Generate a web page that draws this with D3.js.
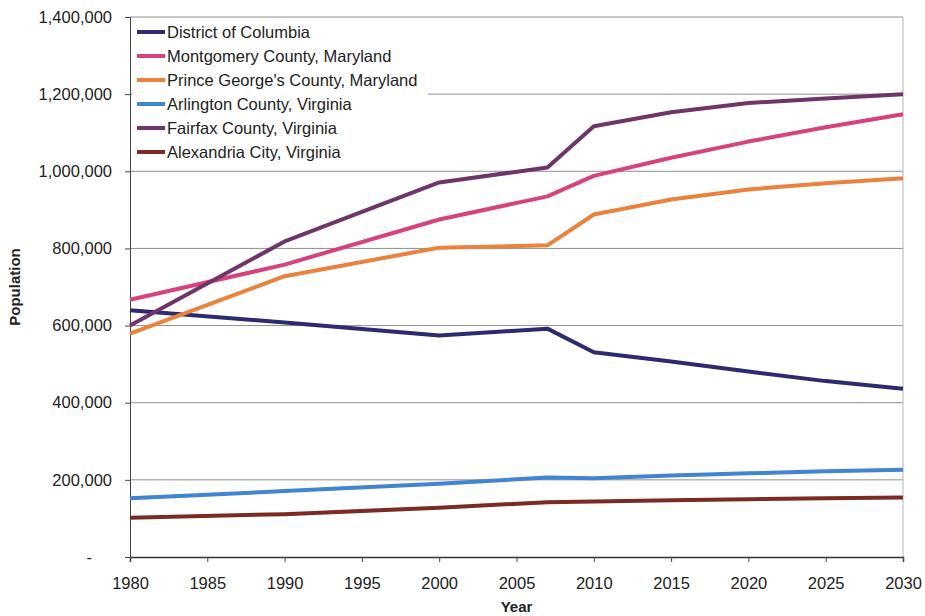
<!DOCTYPE html>
<html lang="en">
<head>
  <meta charset="UTF-8">
  <title>Population Projections</title>
  <script src="https://d3js.org/d3.v7.min.js"></script>
  <style>
    body { margin: 0; background: white; font-family: "Liberation Sans", Arial, sans-serif; }
    svg text { font-size: 16px; fill: #222; }
    .axis-title { font-weight: bold; }
  </style>
</head>
<body>
  <svg id="chart" width="925" height="616"></svg>

  <script>
    const years = [1980, 1990, 2000, 2007, 2010, 2015, 2020, 2025, 2030];
    const seriesNames = [
      "District of Columbia",
      "Montgomery County, Maryland",
      "Prince George's County, Maryland",
      "Arlington County, Virginia",
      "Fairfax County, Virginia",
      "Alexandria City, Virginia"
    ];
    const dcValues = [640000, 608000, 574000, 592000, 531000, 507000, 481000, 456000, 436000];
    const montgomeryValues = [667000, 758000, 875000, 935000, 988000, 1035000, 1077000, 1114000, 1148000];
    const princeGeorgesValues = [579000, 728000, 802000, 808000, 888000, 927000, 953000, 969000, 982000];
    const arlingtonValues = [152000, 171000, 190000, 206000, 204000, 211000, 217000, 222000, 226000];
    const fairfaxValues = [600000, 818000, 971000, 1010000, 1117000, 1153000, 1177000, 1189000, 1200000];
    const alexandriaValues = [102000, 111000, 128000, 142000, 144000, 147000, 150000, 152000, 154000];
    const yTicks = [0, 200000, 400000, 600000, 800000, 1000000, 1200000, 1400000];
    const xTicks = [1980, 1985, 1990, 1995, 2000, 2005, 2010, 2015, 2020, 2025, 2030];
    const colors = ["#2b2b6f", "#d8427c", "#ea823c", "#3f85d2", "#6f3468", "#7c2b24"];

    const allValues = [dcValues, montgomeryValues, princeGeorgesValues, arlingtonValues, fairfaxValues, alexandriaValues];
    const series = seriesNames.map((name, i) => ({
      name: name,
      color: colors[i],
      points: years.map((y, j) => ({ year: y, value: allValues[i][j] }))
    }));

    const svg = d3.select("#chart");
    const margin = { left: 130, right: 22, top: 17, bottom: 59 };
    const width = +svg.attr("width");
    const height = +svg.attr("height");

    const x = d3.scaleLinear()
      .domain([1980, 2030])
      .range([margin.left, width - margin.right]);
    const y = d3.scaleLinear()
      .domain([0, 1400000])
      .range([height - margin.bottom, margin.top]);

    // gridlines
    svg.append("g")
      .selectAll("line")
      .data(yTicks.filter(d => d > 0))
      .enter().append("line")
      .attr("x1", x(1980))
      .attr("x2", x(2030))
      .attr("y1", d => y(d))
      .attr("y2", d => y(d))
      .attr("stroke", "#8f8f8f")
      .attr("stroke-width", 1);

    // right border of plot area
    svg.append("line")
      .attr("x1", x(2030)).attr("x2", x(2030))
      .attr("y1", y(1400000)).attr("y2", y(0))
      .attr("stroke", "#b5b5b5");

    // y axis
    const yAxis = d3.axisLeft(y)
      .tickValues(yTicks)
      .tickSize(5)
      .tickPadding(13)
      .tickFormat(d => d === 0 ? "-" : d3.format(",")(d));
    const yg = svg.append("g")
      .attr("transform", "translate(" + margin.left + ",0)")
      .call(yAxis);
    yg.select(".domain").attr("stroke", "#444");
    yg.selectAll(".tick line").attr("stroke", "#444");
    yg.selectAll(".tick text")
      .style("font-size", "16.5px")
      .attr("fill", "#222")
      .attr("font-family", "Liberation Sans, Arial, sans-serif");
    yg.selectAll(".tick text").filter(d => d === 0).attr("dx", -20);

    // x axis
    const xAxis = d3.axisBottom(x)
      .tickValues(xTicks)
      .tickSize(5)
      .tickPadding(15)
      .tickFormat(d3.format("d"));
    const xg = svg.append("g")
      .attr("transform", "translate(0," + y(0) + ")")
      .call(xAxis);
    xg.select(".domain").attr("stroke", "#333").attr("stroke-width", 1.5);
    xg.selectAll(".tick line").attr("stroke", "#444");
    xg.selectAll(".tick text")
      .style("font-size", "16.5px")
      .attr("fill", "#222")
      .attr("font-family", "Liberation Sans, Arial, sans-serif");

    // lines
    const line = d3.line()
      .x(d => x(d.year))
      .y(d => y(d.value));

    svg.append("g")
      .selectAll("path")
      .data(series)
      .enter().append("path")
      .attr("d", d => line(d.points))
      .attr("fill", "none")
      .attr("stroke", d => d.color)
      .attr("stroke-width", 4)
      .attr("stroke-linejoin", "round");

    // legend
    const legendBox = svg.append("g");
    legendBox.append("rect")
      .attr("x", margin.left + 2)
      .attr("y", margin.top + 2)
      .attr("width", 296)
      .attr("height", 146)
      .attr("fill", "white");

    const legend = legendBox.selectAll("g")
      .data(series)
      .enter().append("g")
      .attr("transform", (d, i) => "translate(137," + (32 + i * 24) + ")");

    legend.append("line")
      .attr("x1", 0)
      .attr("x2", 28)
      .attr("stroke", d => d.color)
      .attr("stroke-width", 4);

    legend.append("text")
      .attr("x", 30)
      .attr("dy", "0.35em")
      .style("font-size", "16.5px")
      .text(d => d.name);

    // axis titles
    svg.append("text")
      .attr("class", "axis-title")
      .attr("text-anchor", "middle")
      .attr("transform", "translate(20," + (y(700000)) + ") rotate(-90)")
      .style("font-size", "15px")
      .text("Population");

    svg.append("text")
      .attr("class", "axis-title")
      .attr("text-anchor", "middle")
      .attr("x", x(2005))
      .attr("y", 612)
      .style("font-size", "15px")
      .text("Year");
  </script>
</body>
</html>
